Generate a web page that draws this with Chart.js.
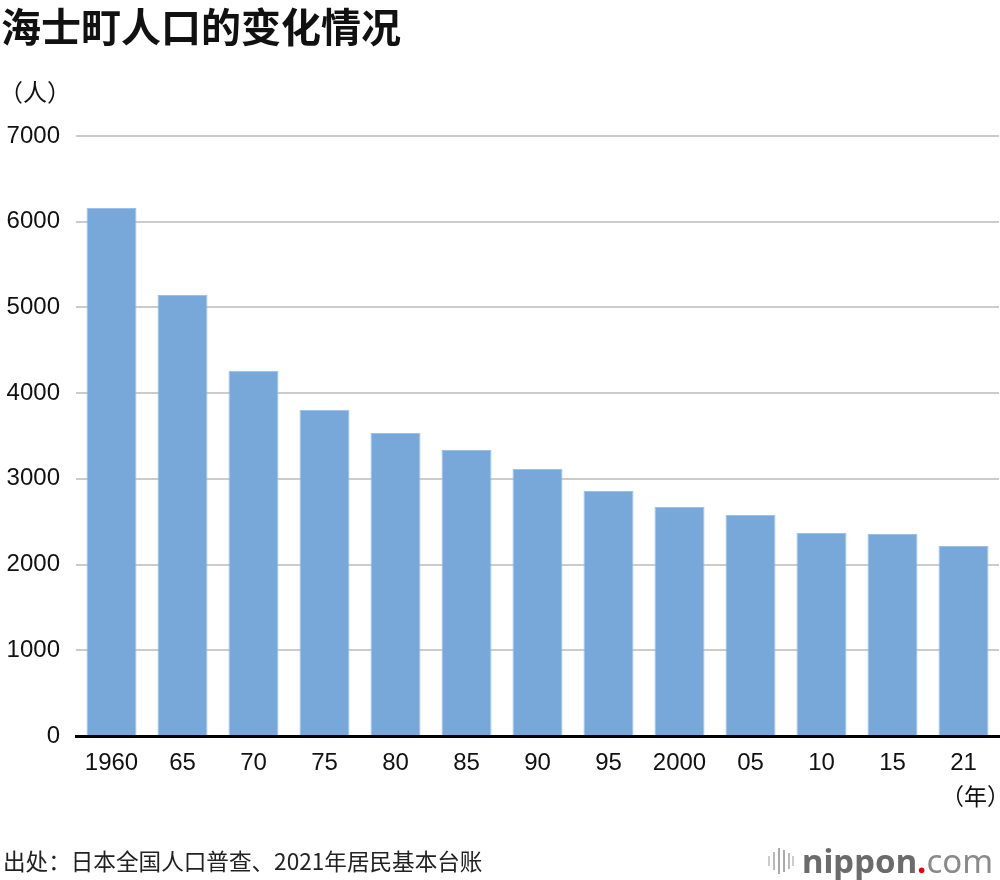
<!DOCTYPE html>
<html>
<head>
<meta charset="utf-8">
<script src="https://cdn.jsdelivr.net/npm/chart.js@4.4.0/dist/chart.umd.min.js"></script>
<style>
  body { margin: 0; background: #fff; }
  #wrap { position: relative; width: 1000px; height: 880px; overflow: hidden; }
  #wrap canvas { position: absolute; left: 0; top: 0; }
  .txt { position: absolute; font-family: "Noto Sans CJK SC", "Noto Sans", sans-serif; color: #111; white-space: nowrap; }
  #title { left: 1px; top: -4px; font-size: 40px; font-weight: bold; }
  #unitY { left: -1px; top: 73px; font-size: 24px; }
  #unitX { left: 941px; top: 778px; font-size: 23px; }
  #source { left: 3px; top: 844px; font-size: 22.6px; color: #222; }
  #logo { position: absolute; left: 768px; top: 838px; height: 44px; font-family: "Noto Sans", "Open Sans", sans-serif; font-size: 33px; color: #6b6b6b; white-space: nowrap; }
  #logo .bars { display: inline-block; vertical-align: -3px; margin-right: 8px; }
  #logo .n { font-weight: bold; }
  #logo .dot { color: #e60012; font-weight: bold; }
  #logo .com { color: #8a8a8a; font-weight: normal; }
</style>
</head>
<body>
<div id="wrap">
  <canvas id="barCanvas" width="1000" height="880"></canvas>
  <div class="txt" id="title">海士町人口的变化情况</div>
  <div class="txt" id="unitY">（人）</div>
  <div class="txt" id="unitX">（年）</div>
  <div class="txt" id="source">出处：日本全国人口普查、2021年居民基本台账</div>
  <div id="logo"><svg class="bars" width="26" height="30" viewBox="0 0 26 30">
      <rect x="0" y="10" width="2" height="10" fill="#ccc"/>
      <rect x="5" y="6" width="2" height="18" fill="#bbb"/>
      <rect x="10" y="2" width="2" height="26" fill="#aaa"/>
      <rect x="15" y="4" width="2" height="22" fill="#aaa"/>
      <rect x="20" y="7" width="2" height="16" fill="#bbb"/>
      <rect x="24" y="10" width="2" height="10" fill="#ccc"/>
    </svg><span class="n">nippon</span><span class="dot">.</span><span class="com">com</span></div>
</div>
<script>
// population of Ama town
var years = ['1960', '65', '70', '75', '80', '85', '90', '95', '2000', '05', '10', '15', '21'];
var population = [6160, 5145, 4260, 3805, 3535, 3337, 3115, 2858, 2672, 2578, 2368, 2357, 2217];
var yTicks = [0, 1000, 2000, 3000, 4000, 5000, 6000, 7000];

var barColor = '#77a8d9';

var ctx = document.getElementById('barCanvas').getContext('2d');
window.myBar = new Chart(ctx, {
    type: 'bar',
    data: {
        labels: years,
        datasets: [{
            label: '人口',
            backgroundColor: barColor,
            borderColor: '#9cc0e6',
            borderWidth: 1,
            data: population,
            categoryPercentage: 1.0,
            barPercentage: 0.704
        }]
    },
    options: {
        responsive: false,
        animation: false,
        layout: {
            padding: { top: 136, right: 1, left: 0, bottom: 94 }
        },
        plugins: {
            legend: { display: false },
            title: { display: false },
            tooltip: { enabled: false }
        },
        scales: {
            x: {
                grid: { display: false, drawTicks: false },
                border: { display: true, color: '#000', width: 3 },
                ticks: {
                    color: '#111',
                    padding: 13,
                    maxRotation: 0,
                    autoSkip: false,
                    font: { family: 'Liberation Sans, Arial, sans-serif', size: 24 }
                },
                afterFit: function (s) { s.height = 50; }
            },
            y: {
                min: 0,
                max: 7000,
                afterBuildTicks: function (s) {
                    s.ticks = yTicks.map(function (v) { return { value: v }; });
                },
                grid: { color: '#cccccc', lineWidth: 2, drawTicks: false },
                border: { display: false },
                ticks: {
                    color: '#111',
                    padding: 16,
                    callback: function (v) { return String(v); },
                    font: { family: 'Liberation Sans, Arial, sans-serif', size: 24 }
                },
                afterFit: function (s) { s.width = 76; }
            }
        }
    }
});
</script>
</body>
</html>
